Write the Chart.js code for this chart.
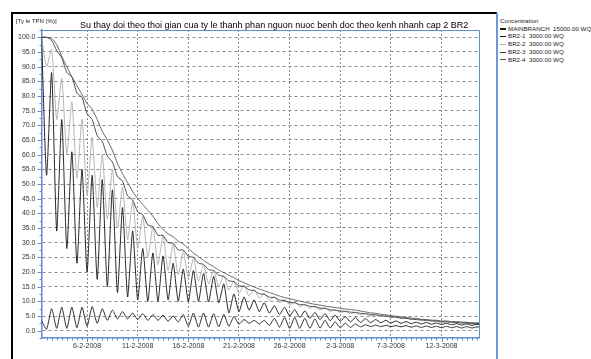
<!DOCTYPE html>
<html lang="en">
<head>
    <meta charset="UTF-8">
    <title>Ty le TPN BR2</title>
    <script src="https://cdn.jsdelivr.net/npm/chart.js"></script>
    <style>
        body {
            margin: 0;
            background: #fff;
            font-family: "Liberation Sans", Arial, sans-serif;
        }
        .frameLeft { position: absolute; left: 11px; top: 12px; width: 2px; height: 347px; background: #000; }
        .frameTop { position: absolute; left: 11px; top: 12px; width: 486px; height: 2px; background: #000; }
        .panelLine { position: absolute; left: 496px; top: 13px; width: 1.5px; height: 346px; background: #6b9ad6; }
        #chartBox { position: absolute; left: 14px; top: 14px; width: 482px; height: 345px; }
        .yTitle { position: absolute; left: 16px; top: 18px; font-size: 6px; line-height: 7px; color: #222; }
        .title { position: absolute; left: 80px; top: 19.5px; font-size: 9px; line-height: 11px; color: #000; white-space: nowrap; }
        #legend { position: absolute; left: 500px; top: 17px; font-size: 6.2px; line-height: 7.7px; color: #222; }
        #legend .row { white-space: pre; }
        #legend .swatch { display: inline-block; width: 6px; height: 1.2px; vertical-align: middle; margin-right: 2px; }
    </style>
</head>
<body>
    <div class="frameLeft"></div>
    <div class="frameTop"></div>
    <div class="panelLine"></div>
    <div id="chartBox"><canvas id="tpnChart"></canvas></div>
    <div class="yTitle">[Ty le TPN (%)]</div>
    <div class="title">Su thay doi theo thoi gian cua ty le thanh phan nguon nuoc benh doc theo kenh nhanh cap 2 BR2</div>
    <div id="legend"></div>

    <script>
        // days since 1-2-2008 00:00, one sample every 12 hours
        const startDay = 0.5;
        const stepDay = 0.5;

        const seriesNames = ['MAINBRANCH  15000.00 WQ', 'BR2-1  3000.00 WQ', 'BR2-2  3000.00 WQ', 'BR2-3  3000.00 WQ', 'BR2-4  3000.00 WQ'];
        const seriesColors = ['#1c1c1c', '#111111', '#b4b4b4', '#3a3a3a', '#555555'];

        const mainBranch = [
            3.5, 0.5, 7.5, 0.8, 8, 0.8, 8, 1, 8, 1.5,
            8.2, 2.5, 7.5, 3.5, 7, 4, 6.5, 4, 6, 3.8,
            5.8, 3.5, 5.5, 3.5, 5.3, 3.2, 5, 3, 5.5, 1.5,
            6, 1.2, 6, 1.2, 5.8, 1.3, 5.5, 1.5, 4.8, 2.2,
            3.8, 2.5, 3.5, 2.3, 3.5, 1.8, 4.2, 1.2, 4.5, 0.8,
            4.5, 0.8, 4.2, 0.8, 4, 0.9, 3.5, 0.9, 3, 1,
            2.6, 1.1, 2.3, 1.3, 2, 1.4, 1.9, 1.4, 1.8, 1.4,
            1.7, 1.3, 1.7, 1.2, 1.6, 1.1, 1.6, 1.1, 1.5, 1,
            1.5, 1, 1.4, 0.9, 1.4, 0.9, 1.3, 0.9
        ];
        const br21 = [
            100, 53, 88, 34, 72, 28, 61, 23, 55, 20,
            53, 17.5, 51.5, 15, 48, 13, 42, 11.5, 34, 10.5,
            28, 10, 26.5, 10, 25.5, 10.5, 23, 10, 21, 10,
            20.5, 10, 19.5, 9.8, 18.5, 9.5, 16, 6, 12.5, 6.5,
            11.5, 7, 10.5, 6.5, 9.5, 6, 8.5, 5.5, 8, 5,
            7.2, 4.5, 6.7, 4.2, 6.2, 3.8, 5.8, 3.4, 5.3, 3.2,
            4.8, 3, 4.5, 2.8, 4.1, 2.7, 3.8, 2.7, 3.5, 2.6,
            3.3, 2.5, 3.1, 2.4, 2.9, 2.3, 2.8, 2.2, 2.6, 2.1,
            2.5, 2, 2.4, 1.9, 2.3, 1.8, 2.2, 1.8
        ];
        const br22 = [
            100, 90, 96, 72, 86, 60, 78, 52, 72, 46,
            66, 42, 60, 38, 55, 35, 49, 31, 44, 28,
            39, 25, 35.5, 22.5, 32.5, 20.5, 29.5, 19, 27, 18,
            24.5, 17, 22.5, 16, 20.5, 15, 18.8, 13.8, 17, 12.8,
            15.5, 11.8, 14, 11, 12.8, 10.2, 11.7, 9.5, 10.7, 8.8,
            9.8, 8.2, 9, 7.6, 8.3, 7.1, 7.7, 6.6, 7.1, 6.2,
            6.6, 5.8, 6.2, 5.4, 5.8, 5.1, 5.4, 4.8, 5, 4.5,
            4.7, 4.2, 4.4, 3.9, 4.1, 3.7, 3.8, 3.4, 3.6, 3.2,
            3.4, 3, 3.1, 2.8, 2.9, 2.6, 2.7, 2.5
        ];
        const br23 = [
            100, 100, 99, 95.5, 93, 88, 86.5, 81, 79.5, 74,
            72, 66.5, 64.5, 59.5, 57.5, 52.5, 51, 46, 44.5, 40.5,
            39.5, 36, 35.5, 32.5, 32.5, 30, 29.8, 27.5, 27.5, 25.3,
            25, 23, 22.6, 20.8, 20.5, 18.9, 18.5, 17, 16.7, 15.3,
            15.1, 13.9, 13.7, 12.6, 12.4, 11.4, 11.3, 10.4, 10.3, 9.6,
            9.5, 8.9, 8.8, 8.3, 8.2, 7.7, 7.6, 7.1, 7.0, 6.7,
            6.6, 6.3, 6.2, 5.9, 5.8, 5.5, 5.4, 5.1, 5.0, 4.7,
            4.6, 4.3, 4.2, 3.9, 3.8, 3.6, 3.5, 3.3, 3.2, 3.0,
            3.0, 2.8, 2.8, 2.6, 2.6, 2.4, 2.4, 2.3
        ];
        const br24 = [
            100, 100, 99.7, 97.5, 93.5, 90, 86.5, 83.5, 80.5, 77.5,
            75.5, 72, 68, 65, 61.5, 57, 53.5, 50.5, 47.5, 45,
            43, 41, 39, 36.5, 34.5, 33, 32, 30.5, 29.5, 28,
            26.5, 25.2, 24, 22.8, 21.8, 20.7, 19.8, 18.9, 18, 17.1,
            16.3, 15.6, 14.9, 14.2, 13.6, 13, 12.4, 11.8, 11.3, 10.9,
            10.5, 10.1, 9.7, 9.3, 9, 8.7, 8.4, 8.1, 7.9, 7.6,
            7.4, 7.2, 7, 6.7, 6.4, 6.1, 5.9, 5.6, 5.4, 5.1,
            4.9, 4.7, 4.5, 4.3, 4.1, 3.9, 3.8, 3.6, 3.5, 3.3,
            3.2, 3.1, 3, 2.9, 2.8, 2.7, 2.6, 2.5
        ];

        const seriesValues = [mainBranch, br21, br22, br23, br24];

        const axisBlue = '#5e8fd2';
        const gridGray = '#8c8c8c';

        function dateLabel(day) {
            const d = new Date(2008, 1, 1 + day);
            return d.getDate() + '-' + (d.getMonth() + 1) + '-' + d.getFullYear();
        }
        const isMajorY = v => Math.abs(v % 5) < 1e-6 && v >= 0 && v <= 100;
        const isMajorX = v => Math.abs(v % 5) < 1e-6;

        // legend panel
        const legend = document.getElementById('legend');
        legend.innerHTML = '<div>Concentration</div>' + seriesNames.map((n, i) =>
            '<div class="row"><span class="swatch" style="background:' + seriesColors[i] + '"></span>' + n + '</div>').join('');

        // plot frame and short/long tick marks
        const frameTicks = {
            id: 'frameTicks',
            afterDraw(chart) {
                const {ctx, chartArea: a, scales: {x, y}} = chart;
                ctx.save();
                ctx.strokeStyle = axisBlue;
                ctx.lineWidth = 1;
                ctx.beginPath();
                ctx.moveTo(a.left, a.top + 0.5);
                ctx.lineTo(a.right + 0.5, a.top + 0.5);
                ctx.lineTo(a.right + 0.5, a.bottom);
                y.ticks.forEach(t => {
                    const py = Math.round(y.getPixelForValue(t.value)) + 0.5;
                    const len = isMajorY(t.value) ? 4 : 2;
                    ctx.moveTo(a.left - len, py);
                    ctx.lineTo(a.left, py);
                });
                x.ticks.forEach(t => {
                    const px = Math.round(x.getPixelForValue(t.value)) + 0.5;
                    const len = isMajorX(t.value) ? 4 : 2.5;
                    ctx.moveTo(px, a.bottom);
                    ctx.lineTo(px, a.bottom + len);
                });
                ctx.stroke();
                ctx.restore();
            }
        };

        const datasets = seriesValues.map((vals, i) => ({
            label: seriesNames[i],
            data: vals.map((v, k) => ({x: startDay + k * stepDay, y: v})),
            borderColor: seriesColors[i],
            borderWidth: i === 2 ? 1 : 0.9,
            pointRadius: 0,
            tension: 0.2,
            fill: false
        }));
        // draw light gray under the dark lines
        datasets[2].order = 5;

        new Chart(document.getElementById('tpnChart'), {
            type: 'line',
            data: {datasets: datasets},
            plugins: [frameTicks],
            options: {
                responsive: true,
                maintainAspectRatio: false,
                animation: false,
                layout: {padding: {top: 16, right: 17, left: 0, bottom: 0}},
                plugins: {
                    legend: {display: false},
                    tooltip: {enabled: false}
                },
                scales: {
                    x: {
                        type: 'linear',
                        min: 0.5,
                        max: 43.7,
                        afterBuildTicks(scale) {
                            const t = [];
                            for (let v = 1; v <= 43.5; v += 0.5) t.push({value: v});
                            scale.ticks = t;
                        },
                        afterFit(scale) { scale.height = 21; },
                        ticks: {
                            autoSkip: false,
                            maxRotation: 0,
                            padding: 0,
                            color: '#333',
                            font: {size: 7, family: '"Liberation Sans", Arial, sans-serif'},
                            callback: v => isMajorX(v) ? dateLabel(v) : ''
                        },
                        grid: {
                            color: c => c.tick && isMajorX(c.tick.value) ? gridGray : 'rgba(0,0,0,0)',
                            lineWidth: 1,
                            tickLength: 4,
                            tickColor: 'rgba(0,0,0,0)'
                        },
                        border: {color: axisBlue, width: 1.5, dash: [2, 2]}
                    },
                    y: {
                        min: -2.5,
                        max: 102.5,
                        afterFit(scale) { scale.width = 27.5; },
                        ticks: {
                            stepSize: 2.5,
                            autoSkip: false,
                            padding: 2,
                            color: '#333',
                            font: {size: 7, family: '"Liberation Sans", Arial, sans-serif'},
                            callback: v => isMajorY(v) ? v.toFixed(1) : ''
                        },
                        grid: {
                            color: c => c.tick && isMajorY(c.tick.value) ? gridGray : 'rgba(0,0,0,0)',
                            lineWidth: 1,
                            tickLength: 4,
                            tickColor: 'rgba(0,0,0,0)'
                        },
                        border: {color: axisBlue, width: 1.5, dash: [3, 3]}
                    }
                }
            }
        });
    </script>
</body>
</html>
